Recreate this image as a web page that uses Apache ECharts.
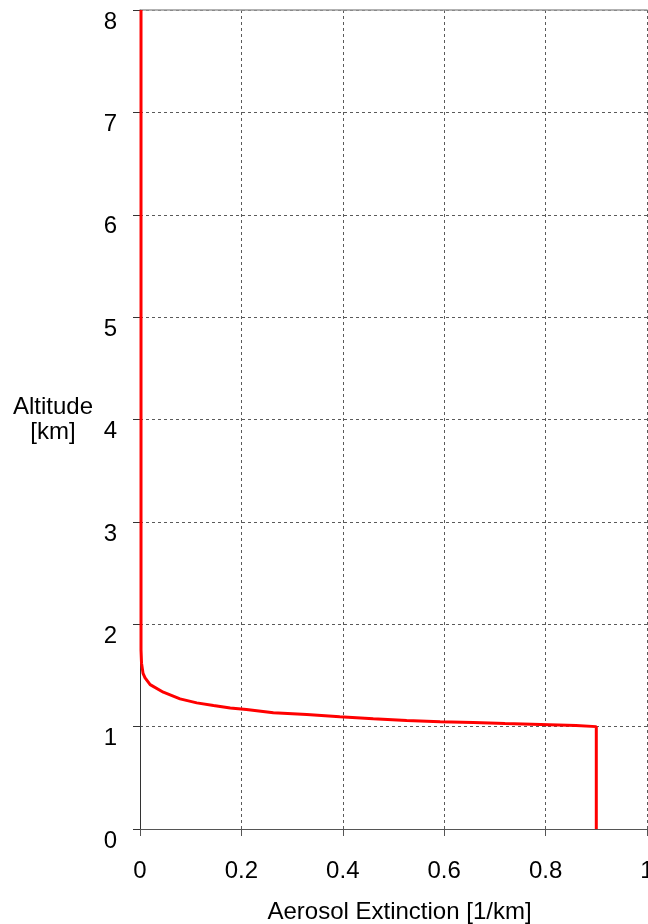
<!DOCTYPE html>
<html>
<head>
<meta charset="utf-8">
<script src="https://cdn.jsdelivr.net/npm/echarts@6/dist/echarts.min.js"></script>
<style>
  html, body { margin: 0; padding: 0; background: #fff; }
  #chart { width: 648px; height: 924px; }
</style>
</head>
<body>
<div id="chart"></div>
<script>
// Aerosol extinction profile: extinction [1/km] against altitude [km]
const extinction = [0.002, 0.002, 0.003, 0.006, 0.010, 0.020, 0.046, 0.079, 0.112, 0.145, 0.178, 0.210,
                    0.263, 0.329, 0.394, 0.460, 0.526, 0.592, 0.657, 0.720, 0.790, 0.860, 0.900, 0.900];
const altitude   = [8.00, 1.75, 1.62, 1.52, 1.476, 1.41, 1.336, 1.271, 1.232, 1.206, 1.183, 1.167,
                    1.135, 1.118, 1.096, 1.076, 1.060, 1.047, 1.040, 1.030, 1.020, 1.010, 1.000, 0.000];

const xTicks = ['0', '0.2', '0.4', '0.6', '0.8', '1'];
const yTicks = ['0', '1', '2', '3', '4', '5', '6', '7', '8'];

const FONT = '"Liberation Sans", Arial, sans-serif';
const gridDash = { color: '#5a5a5a', width: 1, type: [3, 3] };

const profile = extinction.map((e, i) => [e, altitude[i]]);

const chart = echarts.init(document.getElementById('chart'), null, { renderer: 'canvas' });
chart.setOption({
  animation: false,
  backgroundColor: '#ffffff',
  grid: { left: 140, right: 1, top: 10, bottom: 95, containLabel: false, outerBoundsMode: 'none' },
  xAxis: [{
    type: 'value',
    min: 0, max: 1, interval: 0.2,
    name: 'Aerosol Extinction [1/km]',
    nameLocation: 'middle',
    nameGap: 71,
    nameTextStyle: { color: '#000', fontSize: 24, fontFamily: FONT, padding: [0, 0, 0, 12] },
    axisLine: { show: true, lineStyle: { color: '#555', width: 1 } },
    axisTick: { show: true, inside: false, length: 7, lineStyle: { color: '#555' } },
    axisLabel: {
      color: '#000', fontSize: 24, fontFamily: FONT, margin: 30,
      formatter: (v) => xTicks[Math.round(v / 0.2)]
    },
    splitLine: { show: true, lineStyle: gridDash }
  }, {
    // solid frame line along the top edge
    type: 'value', position: 'top', min: 0, max: 1, interval: 0.2,
    axisLine: { show: true, lineStyle: { color: '#999', width: 1.5 } },
    axisTick: { show: false }, axisLabel: { show: false }, splitLine: { show: false }
  }],
  yAxis: {
    type: 'value',
    min: 0, max: 8, interval: 1,
    name: 'Altitude\n[km]',
    nameLocation: 'middle',
    nameRotate: 0,
    nameGap: 87,
    nameTextStyle: { color: '#000', fontSize: 24, fontFamily: FONT, align: 'center', verticalAlign: 'middle', lineHeight: 25 },
    axisLine: { show: true, lineStyle: { color: '#333', width: 1 } },
    axisTick: { show: true, inside: false, length: 7, lineStyle: { color: '#333' } },
    axisLabel: {
      color: '#000', fontSize: 24, fontFamily: FONT, margin: 23, verticalAlign: 'top',
      formatter: (v) => yTicks[Math.round(v)]
    },
    splitLine: { show: true, lineStyle: gridDash }
  },
  series: [{
    type: 'line',
    data: profile,
    showSymbol: false,
    symbol: 'none',
    smooth: false,
    lineStyle: { color: '#ff0000', width: 3 },
    z: 5
  }]
});
</script>
</body>
</html>
